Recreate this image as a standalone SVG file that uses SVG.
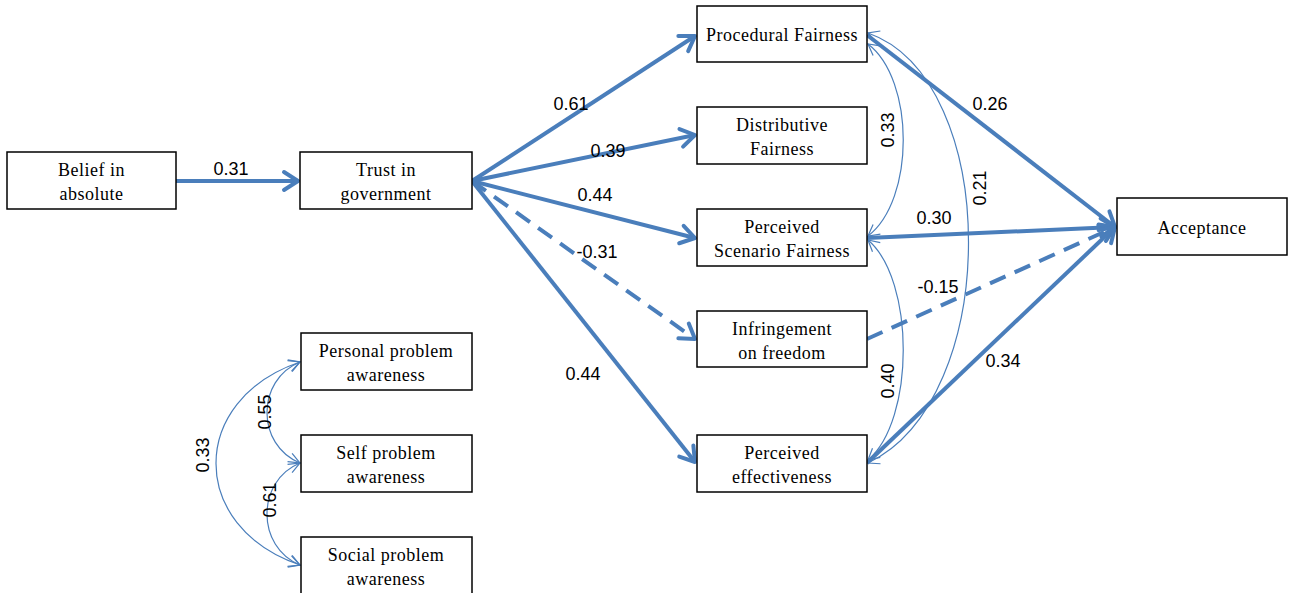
<svg xmlns="http://www.w3.org/2000/svg" width="1290" height="593" viewBox="0 0 1290 593">
<style>
.box{fill:#fff;stroke:#000;stroke-width:1.5}
.nt{font-family:"Liberation Serif",serif;font-size:18px;letter-spacing:0.5px;fill:#000;text-anchor:middle}
.lb{font-family:"Liberation Sans",Arial,sans-serif;font-size:18px;fill:#000;text-anchor:middle}
.thick{stroke:#4A7EBB;stroke-width:4;fill:none;marker-end:url(#ah)}
.dash{stroke-dasharray:17 10}
.thin{stroke:#4A7EBB;stroke-width:1.2;fill:none;marker-start:url(#sh);marker-end:url(#sh)}
</style>
<defs>
<marker id="ah" markerUnits="userSpaceOnUse" markerWidth="30" markerHeight="30" viewBox="-20 -15 30 30" refX="0" refY="0" orient="auto" overflow="visible">
<path d="M-14 -9 L0 0 L-14 9" fill="none" stroke="#4A7EBB" stroke-width="4" stroke-linecap="round" stroke-linejoin="round"/>
</marker>
<marker id="sh" markerUnits="userSpaceOnUse" markerWidth="20" markerHeight="20" viewBox="-15 -10 20 20" refX="0" refY="0" orient="auto-start-reverse" overflow="visible">
<path d="M-11 -6 L0 0 L-11 6" fill="none" stroke="#4A7EBB" stroke-width="1.2"/>
</marker>
</defs>
<rect width="1290" height="593" fill="#fff"/>
<g id="connectors">
<line class="thick" x1="176" y1="181" x2="298" y2="181"/>
<line class="thick" x1="472" y1="181" x2="695" y2="36"/>
<line class="thick" x1="472" y1="181" x2="695" y2="135"/>
<line class="thick" x1="472" y1="181" x2="695" y2="238"/>
<line class="thick dash" x1="472" y1="181" x2="695" y2="339"/>
<line class="thick" x1="472" y1="181" x2="695" y2="462"/>
<line class="thick" x1="867" y1="35" x2="1115" y2="227"/>
<line class="thick" x1="867" y1="238" x2="1115" y2="227"/>
<line class="thick dash" x1="867" y1="339" x2="1115" y2="227"/>
<line class="thick" x1="867" y1="463" x2="1115" y2="227"/>
<path class="thin" d="M868 44 C915 80 915 200 868 236"/>
<path class="thin" d="M868 33 C1002 80 1002 400 868 463"/>
<path class="thin" d="M868 240 C915 280 915 420 868 460"/>
<path class="thin" d="M300 362 C256 380 256 445 300 463"/>
<path class="thin" d="M300 463 C256 481 256 547 300 565"/>
<path class="thin" d="M300 362 C188 400 188 527 300 565"/>
</g>
<g id="labels">
<text class="lb" x="231" y="175">0.31</text>
<text class="lb" x="571" y="110">0.61</text>
<text class="lb" x="608" y="157">0.39</text>
<text class="lb" x="595" y="201">0.44</text>
<text class="lb" x="597" y="258">-0.31</text>
<text class="lb" x="583" y="380">0.44</text>
<text class="lb" x="990" y="110">0.26</text>
<text class="lb" x="934" y="224">0.30</text>
<text class="lb" x="938" y="293">-0.15</text>
<text class="lb" x="1003" y="367">0.34</text>
<text class="lb" transform="translate(894 130) rotate(-90)">0.33</text>
<text class="lb" transform="translate(986 188) rotate(-90)">0.21</text>
<text class="lb" transform="translate(894 381) rotate(-90)">0.40</text>
<text class="lb" transform="translate(209 455) rotate(-90)">0.33</text>
<text class="lb" transform="translate(271 412) rotate(-90)">0.55</text>
<text class="lb" transform="translate(276 500) rotate(-90)">0.61</text>
</g>
<g id="belief"><rect class="box" x="7" y="152" width="169" height="57"/><text class="nt" x="91.5" y="176">Belief in</text><text class="nt" x="91.5" y="200">absolute</text></g>
<g id="trust"><rect class="box" x="300" y="152" width="172" height="57"/><text class="nt" x="386" y="176">Trust in</text><text class="nt" x="386" y="200">government</text></g>
<g id="procedural"><rect class="box" x="697" y="6" width="170" height="56"/><text class="nt" x="782" y="41">Procedural Fairness</text></g>
<g id="distributive"><rect class="box" x="697" y="107" width="170" height="57"/><text class="nt" x="782" y="131">Distributive</text><text class="nt" x="782" y="155">Fairness</text></g>
<g id="scenario"><rect class="box" x="697" y="209" width="170" height="57"/><text class="nt" x="782" y="233">Perceived</text><text class="nt" x="782" y="257">Scenario Fairness</text></g>
<g id="infringement"><rect class="box" x="697" y="311" width="170" height="56"/><text class="nt" x="782" y="335">Infringement</text><text class="nt" x="782" y="359">on freedom</text></g>
<g id="effectiveness"><rect class="box" x="697" y="435" width="170" height="57"/><text class="nt" x="782" y="459">Perceived</text><text class="nt" x="782" y="483">effectiveness</text></g>
<g id="acceptance"><rect class="box" x="1117" y="198" width="170" height="57"/><text class="nt" x="1202" y="234">Acceptance</text></g>
<g id="personal"><rect class="box" x="301" y="333" width="171" height="57"/><text class="nt" x="386" y="357">Personal problem</text><text class="nt" x="386" y="381">awareness</text></g>
<g id="self"><rect class="box" x="301" y="435" width="171" height="57"/><text class="nt" x="386" y="459">Self problem</text><text class="nt" x="386" y="483">awareness</text></g>
<g id="social"><rect class="box" x="301" y="537" width="171" height="57"/><text class="nt" x="386" y="561">Social problem</text><text class="nt" x="386" y="585">awareness</text></g>
</svg>
